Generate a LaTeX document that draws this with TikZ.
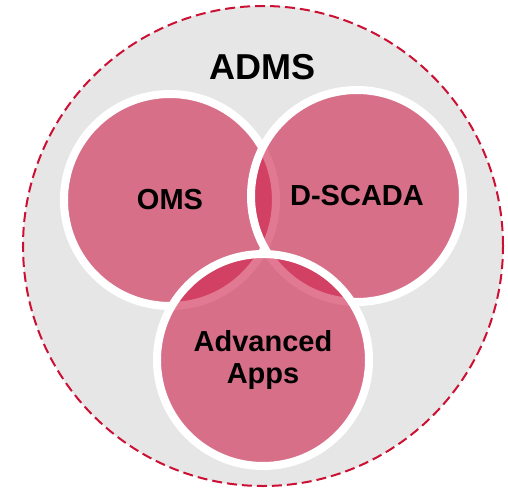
\documentclass[tikz,border=0pt]{standalone}
\usepackage{fontspec}
\setmainfont{Liberation Sans}
\usepackage{tikz}
\definecolor{admsgrey}{RGB}{230,230,230}
\definecolor{admsred}{RGB}{204,16,52}
\definecolor{vennpink}{RGB}{207,33,75}
\tikzset{
	venn/.style={circle, minimum size=4.24cm, inner sep=0pt, draw=white, line width=0.16cm,
		fill=vennpink, fill opacity=0.6, text opacity=1, align=center,
		font=\fontsize{16.5}{18.5}\selectfont\bfseries},
}

\begin{document}
\begin{tikzpicture}
		%%%%% START %%%%%
		\useasboundingbox (0, 0) rectangle (10.16, -9.76);
		
		\node[circle, minimum size=9.6cm, inner sep=0pt, fill=admsgrey, draw=admsred, line width=0.04cm, dash pattern=on 0.2cm off 0.1cm] (adms) at (5.26, -4.92) {};
		\node[font=\fontsize{20.5}{24}\selectfont\bfseries] (admstitle) at (5.26, -1.34) {ADMS};
		
		\node[venn] (oms) at (3.40, -4.00) {OMS};
		\node[venn] (dscada) at (7.14, -3.92) {D-SCADA};
		\node[venn] (apps) at (5.26, -7.20) {Advanced\\Apps};
		
		%%%%% END %%%%%
	\end{tikzpicture}
\end{document}
